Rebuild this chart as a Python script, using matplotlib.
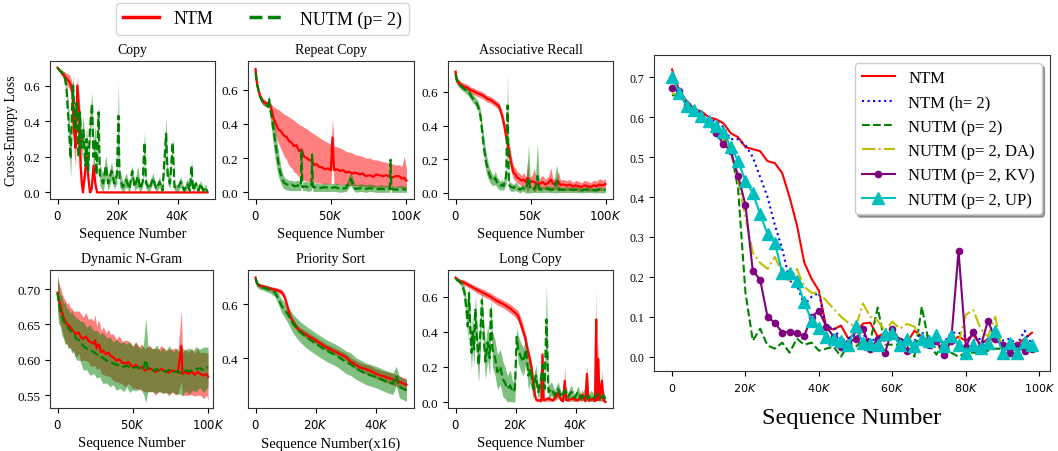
import numpy as np
import matplotlib
matplotlib.use("Agg")
import matplotlib.pyplot as plt
from matplotlib.ticker import FuncFormatter

plt.rcParams['font.family'] = 'serif'
plt.rcParams['font.serif'] = ['Liberation Serif', 'DejaVu Serif']
plt.rcParams['mathtext.fontset'] = 'dejavusans'
plt.rcParams['axes.edgecolor'] = '#333333'

# ---------------- data (x in thousands of sequences) ----------------
# Copy
copy_ntm_x = [0, 1, 2, 3, 4, 4.5, 5, 5.5, 6, 6.6, 7.2, 7.7, 8.1, 8.5, 9.2, 9.8, 10.3, 10.8, 11.4, 12.0, 12.6, 13.2, 14, 20, 30, 40, 50]
copy_ntm_y = [0.70, 0.68, 0.66, 0.64, 0.62, 0.60, 0.55, 0.35, 0.25, 0.60, 0.45, 0.15, 0.05, 0.0, 0.12, 0.20, 0.08, 0.0, 0.02, 0.15, 0.05, 0.0, 0.0, 0.0, 0.0, 0.0, 0.0]
copy_ntm_w = [0.005, 0.01, 0.02, 0.03, 0.04, 0.04, 0.06, 0.12, 0.10, 0.05, 0.10, 0.10, 0.05, 0.0, 0.05, 0.05, 0.05, 0.0, 0.02, 0.05, 0.03, 0.0, 0.0, 0.0, 0.0, 0.0, 0.0]
copy_nutm_x = [0, 1, 2, 2.5, 3, 3.6, 4.0, 4.4, 4.8, 5.2, 5.8, 6.3, 6.6, 7.0, 7.5, 8.0, 8.6, 9.3, 9.7, 10.2,
               10.8, 11.5, 12.0, 12.6, 13.0, 13.7, 14.1, 15.2, 16.1, 16.9, 18.0, 19.0, 19.8, 20.3, 20.7, 21.8, 22.9, 24.0, 24.9, 25.7,
               26.8, 27.6, 28.4, 29.0, 29.5, 30.6, 31.8, 32.9, 34.0, 35.0, 36.2, 36.7, 37.5, 38.4, 39.0, 40.0, 41.1, 42.2, 43.3, 44.1,
               44.7, 45.2, 46.1, 47.0, 47.7, 48.5, 49.4, 50.0]
copy_nutm_y = [0.70, 0.68, 0.66, 0.64, 0.58, 0.42, 0.30, 0.19, 0.45, 0.60, 0.35, 0.50, 0.45, 0.20, 0.45, 0.25, 0.35, 0.15, 0.30, 0.12,
               0.35, 0.50, 0.20, 0.30, 0.10, 0.45, 0.10, 0.05, 0.15, 0.05, 0.12, 0.05, 0.10, 0.43, 0.08, 0.03, 0.07, 0.02, 0.12, 0.03,
               0.09, 0.02, 0.06, 0.28, 0.05, 0.02, 0.08, 0.02, 0.06, 0.01, 0.33, 0.10, 0.05, 0.28, 0.03, 0.02, 0.06, 0.01, 0.05, 0.01,
               0.15, 0.01, 0.05, 0.01, 0.05, 0.01, 0.03, 0.00]
copy_nutm_w = [0.01, 0.01, 0.02, 0.03, 0.05, 0.08, 0.10, 0.11, 0.10, 0.06, 0.10, 0.08, 0.08, 0.08, 0.06, 0.08, 0.08, 0.07, 0.08, 0.06,
               0.08, 0.06, 0.08, 0.08, 0.06, 0.05, 0.06, 0.05, 0.06, 0.04, 0.05, 0.03, 0.05, 0.19, 0.05, 0.03, 0.04, 0.02, 0.03, 0.02,
               0.06, 0.02, 0.03, 0.07, 0.03, 0.02, 0.03, 0.02, 0.03, 0.01, 0.09, 0.05, 0.03, 0.03, 0.02, 0.02, 0.03, 0.01, 0.03, 0.01,
               0.04, 0.01, 0.02, 0.01, 0.02, 0.01, 0.02, 0.00]

# Repeat Copy
rep_ntm_x = [0, 1, 3, 5, 7, 9.5, 11, 12, 13.5, 15, 17, 19, 20.5, 22, 24, 25.5, 27, 29, 30.5, 32, 34, 35.5, 37, 39, 40.5, 42, 44, 46, 48, 50,
             51, 52, 54, 56, 58, 60, 62, 64, 66, 69, 71, 73, 76, 78, 80, 82, 84, 87, 89, 91, 93, 95.5, 97, 98.5, 100]
rep_ntm_y = [0.72, 0.63, 0.56, 0.53, 0.52, 0.515, 0.47, 0.43, 0.40, 0.37, 0.355, 0.33, 0.325, 0.30, 0.29, 0.27, 0.275, 0.24, 0.25, 0.21,
             0.2, 0.19, 0.185, 0.16, 0.165, 0.15, 0.145, 0.135, 0.14, 0.13, 0.32, 0.13, 0.135, 0.125, 0.13, 0.115, 0.12, 0.11, 0.115, 0.105,
             0.11, 0.095, 0.1, 0.09, 0.105, 0.1, 0.095, 0.1, 0.09, 0.087, 0.095, 0.093, 0.08, 0.085, 0.068]
rep_ntm_lo = [0.70, 0.61, 0.54, 0.51, 0.50, 0.50, 0.43, 0.38, 0.33, 0.29, 0.25, 0.21, 0.19, 0.16, 0.14, 0.12, 0.11, 0.09, 0.085, 0.07,
              0.065, 0.06, 0.06, 0.06, 0.055, 0.055, 0.05, 0.05, 0.05, 0.05, 0.22, 0.05, 0.045, 0.045, 0.045, 0.04, 0.04, 0.04, 0.04, 0.035,
              0.035, 0.035, 0.035, 0.03, 0.03, 0.03, 0.03, 0.03, 0.03, 0.03, 0.03, 0.03, 0.025, 0.025, 0.025]
rep_ntm_hi = [0.73, 0.65, 0.58, 0.55, 0.535, 0.525, 0.51, 0.50, 0.49, 0.485, 0.47, 0.455, 0.45, 0.44, 0.43, 0.42, 0.41, 0.395, 0.39, 0.38,
              0.37, 0.36, 0.35, 0.34, 0.33, 0.32, 0.31, 0.30, 0.29, 0.28, 0.43, 0.27, 0.265, 0.26, 0.25, 0.24, 0.235, 0.23, 0.22, 0.215,
              0.21, 0.2, 0.2, 0.19, 0.19, 0.185, 0.18, 0.175, 0.17, 0.165, 0.16, 0.16, 0.15, 0.21, 0.14]
rep_nutm_x = [0, 1, 3, 5, 7, 8.5, 9, 9.5, 10, 11, 12, 13, 14, 15, 16, 17, 18, 19, 20, 21, 22, 24, 26, 28, 30, 30.5, 31, 33, 35, 37,
              37.5, 38, 40, 43, 46, 50, 53, 56, 60, 63, 66, 70, 73, 76, 80, 83, 86, 89, 89.5, 90, 93, 96, 100]
rep_nutm_y = [0.70, 0.63, 0.56, 0.52, 0.51, 0.50, 0.55, 0.49, 0.47, 0.43, 0.36, 0.30, 0.235, 0.18, 0.13, 0.095, 0.07, 0.055, 0.05, 0.045,
              0.04, 0.045, 0.035, 0.04, 0.035, 0.25, 0.03, 0.035, 0.03, 0.035, 0.22, 0.03, 0.03, 0.025, 0.03, 0.025, 0.03, 0.02, 0.025, 0.08,
              0.02, 0.025, 0.02, 0.025, 0.018, 0.02, 0.018, 0.02, 0.19, 0.02, 0.015, 0.02, 0.015]
rep_nutm_lo = [0.69, 0.62, 0.55, 0.51, 0.50, 0.49, 0.50, 0.46, 0.40, 0.34, 0.26, 0.20, 0.14, 0.10, 0.07, 0.05, 0.03, 0.02, 0.015, 0.015,
               0.01, 0.01, 0.01, 0.01, 0.01, 0.15, 0.01, 0.01, 0.005, 0.01, 0.12, 0.005, 0.005, 0.005, 0.005, 0.005, 0.005, 0.0, 0.005, 0.04,
               0.0, 0.005, 0.0, 0.005, 0.0, 0.0, 0.0, 0.0, 0.1, 0.0, 0.0, 0.0, 0.0]
rep_nutm_hi = [0.71, 0.64, 0.57, 0.535, 0.525, 0.52, 0.58, 0.51, 0.50, 0.48, 0.43, 0.38, 0.31, 0.25, 0.19, 0.14, 0.11, 0.09, 0.08, 0.075,
               0.07, 0.07, 0.065, 0.07, 0.065, 0.28, 0.06, 0.065, 0.06, 0.06, 0.26, 0.055, 0.055, 0.05, 0.055, 0.05, 0.055, 0.045, 0.05, 0.12,
               0.045, 0.05, 0.045, 0.05, 0.04, 0.045, 0.04, 0.045, 0.22, 0.04, 0.035, 0.04, 0.035]

# Associative Recall
ar_ntm_x = [0, 1, 3, 5, 8, 10, 12, 14, 17, 19, 21, 23, 25.5, 27, 29, 31, 32.5, 34, 35.5, 37, 38.7, 40, 41, 42.5, 44, 45.5, 47, 48, 49, 51,
            52.5, 54, 56, 58, 60, 62, 63.5, 65, 67, 68.5, 70, 72, 74, 76, 78.5, 80, 82, 84, 86, 88, 90, 92, 94, 96, 98, 100]
ar_ntm_y = [0.72, 0.665, 0.645, 0.635, 0.625, 0.61, 0.605, 0.595, 0.585, 0.575, 0.56, 0.555, 0.54, 0.53, 0.515, 0.46, 0.40, 0.32, 0.26, 0.18,
            0.12, 0.11, 0.093, 0.085, 0.073, 0.08, 0.063, 0.09, 0.06, 0.07, 0.065, 0.055, 0.053, 0.065, 0.05, 0.06, 0.08, 0.055, 0.05, 0.07,
            0.047, 0.05, 0.043, 0.05, 0.037, 0.045, 0.04, 0.035, 0.045, 0.04, 0.035, 0.045, 0.04, 0.05, 0.045, 0.053]
ar_ntm_w = [0.03, 0.02, 0.02, 0.02, 0.02, 0.02, 0.02, 0.02, 0.02, 0.02, 0.02, 0.02, 0.02, 0.02, 0.02, 0.03, 0.04, 0.05, 0.05, 0.05,
            0.04, 0.04, 0.035, 0.035, 0.03, 0.04, 0.03, 0.1, 0.03, 0.035, 0.08, 0.03, 0.03, 0.04, 0.03, 0.04, 0.07, 0.03, 0.03, 0.06,
            0.03, 0.03, 0.03, 0.03, 0.025, 0.03, 0.03, 0.025, 0.03, 0.03, 0.025, 0.03, 0.03, 0.035, 0.03, 0.03]
ar_nutm_x = [0, 1, 3.3, 5, 7.7, 9.5, 11, 13, 15, 16.6, 17.7, 18.8, 20, 21.5, 23, 24, 25.4, 26.5, 27.7, 29, 30, 31, 32, 33.8, 34.7,
             35.6, 37, 38.7, 40, 42, 43, 45, 47, 48.7, 50, 51, 53, 54.6, 56, 58.6, 61, 63, 65, 67.5, 69, 72, 75, 78, 81, 84,
             87, 90, 93, 96, 98, 100]
ar_nutm_y = [0.705, 0.665, 0.64, 0.625, 0.605, 0.59, 0.567, 0.547, 0.517, 0.458, 0.37, 0.28, 0.20, 0.14, 0.10, 0.085, 0.073, 0.09, 0.063, 0.05,
             0.043, 0.05, 0.04, 0.10, 0.52, 0.05, 0.035, 0.03, 0.04, 0.025, 0.02, 0.03, 0.02, 0.09, 0.02, 0.02, 0.025, 0.1, 0.02, 0.02,
             0.025, 0.02, 0.02, 0.07, 0.02, 0.018, 0.02, 0.018, 0.02, 0.015, 0.02, 0.018, 0.015, 0.02, 0.015, 0.018]
ar_nutm_w = [0.02, 0.02, 0.02, 0.02, 0.02, 0.025, 0.025, 0.025, 0.03, 0.04, 0.05, 0.06, 0.06, 0.05, 0.04, 0.035, 0.03, 0.04, 0.03, 0.03,
             0.025, 0.03, 0.025, 0.05, 0.2, 0.03, 0.025, 0.02, 0.025, 0.02, 0.02, 0.02, 0.02, 0.2, 0.02, 0.018, 0.02, 0.2, 0.018, 0.018,
             0.02, 0.018, 0.018, 0.1, 0.018, 0.015, 0.018, 0.015, 0.018, 0.015, 0.018, 0.015, 0.015, 0.018, 0.015, 0.015]

# Dynamic N-Gram
ng_ntm_x = [0, 0.7, 1.8, 3, 4, 5, 6.2, 7.3, 8.4, 9.5, 10.6, 12, 14, 15.5, 17, 19, 20.5, 22, 24, 25, 26, 27, 28, 29, 30.5, 32, 34, 35, 37, 39,
            41, 43, 45, 47, 50, 52, 54, 56, 58, 61, 63, 65, 67, 69, 72, 74, 76, 78, 80, 82.3, 83, 85, 87, 89, 91, 93, 95, 97, 99, 100]
ng_ntm_y = [0.695, 0.686, 0.677, 0.668, 0.66, 0.655, 0.651, 0.649, 0.646, 0.643, 0.641, 0.636, 0.639, 0.632, 0.63, 0.633, 0.627, 0.625, 0.623, 0.628,
            0.616, 0.622, 0.62, 0.611, 0.613, 0.608, 0.61, 0.606, 0.604, 0.599, 0.601, 0.596, 0.595, 0.597, 0.59, 0.593, 0.588, 0.59, 0.585, 0.588,
            0.586, 0.583, 0.585, 0.587, 0.584, 0.582, 0.585, 0.584, 0.582, 0.62, 0.58, 0.583, 0.58, 0.584, 0.579, 0.583, 0.58, 0.578, 0.58, 0.576]
ng_ntm_w = [0.022, 0.024, 0.026, 0.026, 0.028, 0.03, 0.028, 0.032, 0.028, 0.03, 0.028, 0.033, 0.03, 0.034, 0.03, 0.034, 0.03, 0.034, 0.032, 0.036,
            0.03, 0.034, 0.032, 0.03, 0.034, 0.03, 0.033, 0.03, 0.033, 0.03, 0.033, 0.03, 0.033, 0.03, 0.03, 0.033, 0.03, 0.033, 0.03, 0.033,
            0.03, 0.033, 0.03, 0.033, 0.03, 0.033, 0.03, 0.033, 0.03, 0.05, 0.03, 0.033, 0.03, 0.033, 0.03, 0.033, 0.03, 0.033, 0.03, 0.033]
ng_nutm_x = [0, 0.7, 1.8, 3, 4, 5, 6.2, 7.3, 8.4, 9.5, 10.6, 12.5, 15, 17, 19.4, 21.5, 24, 26, 28, 30, 32.7, 35, 37, 39, 41.5,
             44, 46, 48, 50, 52, 55, 57, 58.7, 60, 63.6, 66, 68, 70, 72, 74, 77, 79, 81, 83, 85, 87, 90, 92, 94.5, 97, 100]
ng_nutm_y = [0.695, 0.681, 0.67, 0.662, 0.655, 0.652, 0.648, 0.644, 0.641, 0.64, 0.637, 0.63, 0.627, 0.62, 0.616, 0.614, 0.611, 0.608, 0.606, 0.603,
             0.599, 0.597, 0.595, 0.593, 0.592, 0.59, 0.592, 0.59, 0.588, 0.59, 0.588, 0.586, 0.6, 0.587, 0.585, 0.587, 0.584, 0.585, 0.583, 0.586,
             0.583, 0.584, 0.582, 0.583, 0.585, 0.584, 0.585, 0.587, 0.588, 0.586, 0.59]
ng_nutm_w = [0.025, 0.03, 0.022, 0.028, 0.024, 0.03, 0.025, 0.028, 0.024, 0.03, 0.026, 0.03, 0.028, 0.034, 0.03, 0.036, 0.03, 0.034, 0.03, 0.036,
             0.032, 0.035, 0.03, 0.036, 0.032, 0.035, 0.03, 0.036, 0.03, 0.034, 0.028, 0.034, 0.06, 0.032, 0.03, 0.034, 0.028, 0.033, 0.029, 0.034,
             0.028, 0.033, 0.03, 0.034, 0.028, 0.033, 0.028, 0.032, 0.027, 0.032, 0.028]

# Priority Sort
ps_ntm_x = [0, 0.3, 0.9, 2.5, 4.7, 7, 8.6, 9.7, 10.5, 11.4, 12.5, 14, 16.9, 20, 23.5, 26.8, 30, 31.2, 34.5, 37.8, 40, 43.3, 46.6, 50]
ps_ntm_y = [0.698, 0.68, 0.67, 0.665, 0.658, 0.652, 0.645, 0.625, 0.594, 0.557, 0.533, 0.508, 0.486, 0.465, 0.44, 0.422, 0.404, 0.39, 0.367, 0.355,
            0.342, 0.33, 0.318, 0.302]
ps_ntm_w = [0.008, 0.008, 0.008, 0.008, 0.008, 0.008, 0.01, 0.012, 0.012, 0.012, 0.012, 0.012, 0.012, 0.012, 0.012, 0.012, 0.014, 0.014, 0.016, 0.018,
            0.018, 0.02, 0.022, 0.022]
ps_nutm_x = [0, 0.9, 2.5, 4.7, 6.4, 7.5, 8.6, 10.3, 12.5, 14.7, 16.9, 20, 23.5, 26.8, 30, 31.5, 33.4, 36.7, 40, 43.3, 45.5, 46.6, 47.7, 50]
ps_nutm_y = [0.694, 0.667, 0.661, 0.653, 0.643, 0.621, 0.594, 0.569, 0.526, 0.498, 0.477, 0.453, 0.428, 0.41, 0.385, 0.378, 0.361, 0.342, 0.33, 0.314,
             0.306, 0.335, 0.293, 0.281]
ps_nutm_w = [0.01, 0.01, 0.01, 0.012, 0.015, 0.02, 0.025, 0.03, 0.035, 0.038, 0.04, 0.04, 0.04, 0.04, 0.042, 0.042, 0.04, 0.04, 0.04, 0.04,
             0.04, 0.035, 0.04, 0.04]

# Long Copy
lc_ntm_x = [0, 1.1, 2.8, 5, 7.2, 9.4, 11.6, 13.8, 16, 18.2, 19.8, 20.9, 22, 23.2, 24, 24.6, 25.4, 25.9, 26.5, 27, 28.1, 28.6, 29, 29.4, 30.9,
            32.5, 34.2, 35.3, 35.9, 36.4, 36.9, 39.1, 40.8, 42.2, 43.3, 43.8, 44.3, 45.8, 46.5, 46.9, 47.2, 47.6, 48, 48.8, 49.3, 50]
lc_ntm_y = [0.707, 0.69, 0.68, 0.66, 0.638, 0.62, 0.6, 0.575, 0.557, 0.532, 0.51, 0.49, 0.434, 0.368, 0.3, 0.255, 0.19, 0.113, 0.038, 0.01,
            0.01, 0.005, 0.27, 0.01, 0.02, 0.01, 0.05, 0.01, 0.005, 0.12, 0.01, 0.02, 0.01, 0.04, 0.005, 0.16, 0.01, 0.02, 0.005, 0.47,
            0.01, 0.245, 0.01, 0.12, 0.01, 0.0]
lc_ntm_w = [0.01, 0.012, 0.015, 0.015, 0.018, 0.02, 0.02, 0.022, 0.022, 0.025, 0.025, 0.03, 0.035, 0.03, 0.03, 0.03, 0.025, 0.02, 0.015, 0.008,
            0.008, 0.005, 0.05, 0.008, 0.015, 0.008, 0.03, 0.008, 0.005, 0.08, 0.008, 0.015, 0.008, 0.03, 0.005, 0.05, 0.008, 0.015, 0.005, 0.17,
            0.008, 0.11, 0.008, 0.06, 0.008, 0.0]
lc_nutm_x = [0, 1.1, 2.2, 3, 3.6, 4.1, 4.5, 5, 5.3, 5.7, 6.2, 6.6, 7.2, 7.7, 8.3, 8.8, 9.4, 10, 10.7, 11.4, 11.8, 12.3, 13.2, 14, 14.9,
             15.8, 16.5, 17.3, 18.2, 19.1, 19.8, 20.4, 20.9, 21.7, 22.6, 23.5, 24.3, 25, 25.9, 26.8, 27.6, 28.3, 29, 29.7, 30.3, 31, 32, 33, 34.2, 35.3,
             36.4, 37.5, 38.6, 39.7, 40.8, 41.9, 43, 44.1, 45.2, 46.3, 47.4, 48.5, 49.3, 50]
lc_nutm_y = [0.70, 0.69, 0.67, 0.62, 0.53, 0.43, 0.62, 0.38, 0.28, 0.40, 0.30, 0.53, 0.34, 0.21, 0.40, 0.58, 0.36, 0.23, 0.34, 0.25,
             0.54, 0.30, 0.25, 0.17, 0.20, 0.13, 0.11, 0.075, 0.094, 0.057, 0.075, 0.37, 0.30, 0.26, 0.23, 0.30, 0.15, 0.19, 0.075, 0.15,
             0.057, 0.11, 0.21, 0.075, 0.47, 0.057, 0.075, 0.038, 0.075, 0.028, 0.066, 0.028, 0.057, 0.023, 0.057, 0.019, 0.047, 0.019, 0.038, 0.023,
             0.047, 0.023, 0.038, 0.015]
lc_nutm_w = [0.01, 0.012, 0.02, 0.04, 0.06, 0.08, 0.05, 0.1, 0.1, 0.1, 0.1, 0.08, 0.1, 0.1, 0.1, 0.06, 0.1, 0.1, 0.1, 0.1,
             0.06, 0.1, 0.1, 0.1, 0.1, 0.1, 0.09, 0.075, 0.09, 0.057, 0.075, 0.05, 0.08, 0.08, 0.08, 0.08, 0.08, 0.08, 0.06, 0.06,
             0.04, 0.05, 0.06, 0.04, 0.2, 0.04, 0.04, 0.03, 0.04, 0.025, 0.04, 0.025, 0.04, 0.02, 0.035, 0.017, 0.03, 0.017, 0.03, 0.02,
             0.03, 0.02, 0.03, 0.012]

# Right panel: Associative Recall comparison, every 2K sequences
ab_x = list(range(0, 100, 2))
ab_ntm = [0.72, 0.665, 0.64, 0.62, 0.615, 0.60, 0.595, 0.585, 0.56, 0.55, 0.525, 0.52, 0.515, 0.49, 0.485, 0.46, 0.40, 0.33, 0.236, 0.195,
          0.165, 0.073, 0.068, 0.078, 0.045, 0.06, 0.083, 0.085, 0.05, 0.06, 0.055, 0.045, 0.035, 0.065, 0.05, 0.04, 0.04, 0.035, 0.04, 0.05,
          0.04, 0.055, 0.03, 0.045, 0.04, 0.03, 0.03, 0.03, 0.045, 0.06]
ab_ntm_h2 = [0.70, 0.665, 0.64, 0.62, 0.61, 0.595, 0.59, 0.575, 0.545, 0.545, 0.53, 0.50, 0.45, 0.40, 0.33, 0.27, 0.19, 0.18, 0.13, 0.15,
             0.16, 0.07, 0.075, 0.04, 0.045, 0.055, 0.055, 0.04, 0.045, 0.04, 0.06, 0.04, 0.035, 0.04, 0.06, 0.05, 0.04, 0.035, 0.06, 0.06,
             0.05, 0.04, 0.045, 0.025, 0.05, 0.04, 0.045, 0.03, 0.065, 0.03]
ab_nutm = [0.655, 0.655, 0.635, 0.615, 0.60, 0.585, 0.565, 0.55, 0.52, 0.42, 0.16, 0.04, 0.07, 0.028, 0.02, 0.035, 0.01, 0.045, 0.03, 0.035,
           0.015, 0.02, 0.025, 0.0, 0.03, 0.025, 0.04, 0.04, 0.123, 0.03, 0.03, 0.03, 0.025, 0.0, 0.125, 0.03, 0.005, 0.04, 0.01, 0.0,
           0.01, 0.01, 0.01, 0.015, 0.02, 0.02, 0.025, 0.02, 0.015, 0.02]
ab_nutm_da = [0.66, 0.655, 0.635, 0.615, 0.60, 0.585, 0.565, 0.545, 0.515, 0.44, 0.35, 0.26, 0.235, 0.22, 0.25, 0.21, 0.19, 0.22, 0.175, 0.16,
              0.16, 0.14, 0.12, 0.10, 0.085, 0.075, 0.133, 0.10, 0.09, 0.065, 0.088, 0.07, 0.082, 0.075, 0.04, 0.035, 0.02, 0.025, 0.04, 0.035,
              0.105, 0.117, 0.07, 0.05, 0.10, 0.01, 0.03, 0.02, 0.03, 0.03]
ab_nutm_kv = [0.673, 0.665, 0.63, 0.615, 0.60, 0.585, 0.56, 0.533, 0.515, 0.452, 0.38, 0.215, 0.193, 0.10, 0.085, 0.06, 0.063, 0.058, 0.052, 0.10,
              0.115, 0.075, 0.05, 0.025, 0.035, 0.045, 0.07, 0.02, 0.045, 0.01, 0.07, 0.04, 0.015, 0.025, 0.04, 0.03, 0.04, 0.005, 0.04, 0.265,
              0.025, 0.063, 0.025, 0.09, 0.045, 0.03, 0.01, 0.028, 0.015, 0.02]
ab_nutm_up = [0.70, 0.662, 0.627, 0.617, 0.604, 0.59, 0.578, 0.563, 0.525, 0.49, 0.44, 0.41, 0.357, 0.308, 0.286, 0.21, 0.21, 0.19, 0.136, 0.09,
              0.072, 0.048, 0.044, 0.038, 0.028, 0.076, 0.034, 0.032, 0.028, 0.057, 0.06, 0.028, 0.045, 0.026, 0.045, 0.04, 0.054, 0.026, 0.052, 0.028,
              0.01, 0.028, 0.021, 0.033, 0.065, 0.01, 0.033, 0.01, 0.036, 0.029]

# ---------------- plotting ----------------
fig = plt.figure(figsize=(10.58, 4.52), dpi=100)

kfmt = FuncFormatter(lambda v, p: '$0$' if v == 0 else '$%dK$' % int(round(v / 1000)))


def band(ax, x, y, lo, hi, color, ls):
    x = np.array(x) * 1000
    ax.fill_between(x, lo, hi, color=color, alpha=0.5, lw=0)
    line, = ax.plot(x, y, color=color, ls=ls, lw=1.6)
    return line


def sym(ax, x, y, w, color, ls):
    y = np.array(y)
    w = np.array(w)
    return band(ax, x, y, np.clip(y - w, 0, None), y + w, color, ls)


W, H = 1058, 452
def box(l, r, t, b):
    return [l / W, 1 - b / H, (r - l) / W, (b - t) / H]


panels = [
    ('Copy', box(50, 215, 62, 200), (-2.5, 52.5), (-0.037, 0.738), [0, 20000, 40000], [0, 0.2, 0.4, 0.6], 'Sequence Number'),
    ('Repeat Copy', box(248, 414, 62, 200), (-5, 105), (-0.039, 0.767), [0, 50000, 100000], [0, 0.2, 0.4, 0.6], 'Sequence Number'),
    ('Associative Recall', box(448, 613, 62, 200), (-5, 105), (-0.036, 0.784), [0, 50000, 100000], [0, 0.2, 0.4, 0.6], 'Sequence Number'),
    ('Dynamic N-Gram', box(50, 213, 271, 409), (-5, 103.3), (0.532, 0.727), [0, 50000, 100000], [0.55, 0.60, 0.65, 0.70], 'Sequence Number'),
    ('Priority Sort', box(248, 414, 271, 409), (-2.5, 52.5), (0.216, 0.726), [0, 20000, 40000], [0.4, 0.6], 'Sequence Number(x16)'),
    ('Long Copy', box(448, 613, 271, 409), (-2.5, 52.5), (-0.034, 0.751), [0, 20000, 40000], [0, 0.2, 0.4, 0.6], 'Sequence Number'),
]

axes = []
for title, pos, xl, yl, xt, yt, xlab in panels:
    ax = fig.add_axes(pos)
    ax.set_title(title, fontsize=10)
    ax.set_xlim(xl[0] * 1000, xl[1] * 1000)
    ax.set_ylim(*yl)
    ax.set_xticks(xt)
    ax.set_yticks(yt)
    ax.xaxis.set_major_formatter(kfmt)
    ax.tick_params(axis='x', labelsize=8.5)
    ax.tick_params(axis='y', labelsize=9.5)
    ax.set_xlabel(xlab, fontsize=10.5)
    axes.append(ax)

h1 = sym(axes[0], copy_ntm_x, copy_ntm_y, copy_ntm_w, 'r', '-')
h2 = sym(axes[0], copy_nutm_x, copy_nutm_y, copy_nutm_w, 'g', '--')
axes[0].set_ylabel('Cross-Entropy Loss', fontsize=10)

band(axes[1], rep_ntm_x, rep_ntm_y, rep_ntm_lo, rep_ntm_hi, 'r', '-')
band(axes[1], rep_nutm_x, rep_nutm_y, rep_nutm_lo, rep_nutm_hi, 'g', '--')

sym(axes[2], ar_ntm_x, ar_ntm_y, ar_ntm_w, 'r', '-')
sym(axes[2], ar_nutm_x, ar_nutm_y, ar_nutm_w, 'g', '--')

sym(axes[3], ng_ntm_x, ng_ntm_y, ng_ntm_w, 'r', '-')
sym(axes[3], ng_nutm_x, ng_nutm_y, ng_nutm_w, 'g', '--')

sym(axes[4], ps_ntm_x, ps_ntm_y, ps_ntm_w, 'r', '-')
sym(axes[4], ps_nutm_x, ps_nutm_y, ps_nutm_w, 'g', '--')

sym(axes[5], lc_ntm_x, lc_ntm_y, lc_ntm_w, 'r', '-')
sym(axes[5], lc_nutm_x, lc_nutm_y, lc_nutm_w, 'g', '--')

leg = fig.legend([h1, h2], ['NTM', 'NUTM (p= 2)'], loc='center', bbox_to_anchor=(0.248, 0.956),
                 ncol=2, fontsize=13, handlelength=2.0, columnspacing=2.0)
for ln in leg.get_lines():
    ln.set_linewidth(2.5)

# right panel
axr = fig.add_axes(box(654, 1050, 56, 372))
xr = np.array(ab_x) * 1000
axr.plot(xr, ab_ntm, color='r', lw=1.5, label='NTM')
axr.plot(xr, ab_ntm_h2, color='b', ls=':', lw=1.5, label='NTM (h= 2)')
axr.plot(xr, ab_nutm, color='g', ls='--', lw=1.5, label='NUTM (p= 2)')
axr.plot(xr, ab_nutm_da, color='y', ls='-.', lw=1.5, label='NUTM (p= 2, DA)')
axr.plot(xr, ab_nutm_kv, color='purple', marker='o', ms=4.5, lw=1.5, label='NUTM (p= 2, KV)')
axr.plot(xr, ab_nutm_up, color='c', marker='^', ms=8.5, lw=1.5, label='NUTM (p= 2, UP)')
axr.set_xlim(-4900, 102900)
axr.set_ylim(-0.036, 0.756)
axr.set_xticks([0, 20000, 40000, 60000, 80000, 100000])
axr.set_yticks([0, 0.1, 0.2, 0.3, 0.4, 0.5, 0.6, 0.7])
axr.xaxis.set_major_formatter(kfmt)
axr.tick_params(axis='x', labelsize=8)
axr.tick_params(axis='y', labelsize=8.5)
axr.set_xlabel('Sequence Number', fontsize=17.5, labelpad=10)
axr.legend(loc='upper right', fontsize=12, shadow=True, framealpha=1)

fig.savefig('out.png', dpi=100)
